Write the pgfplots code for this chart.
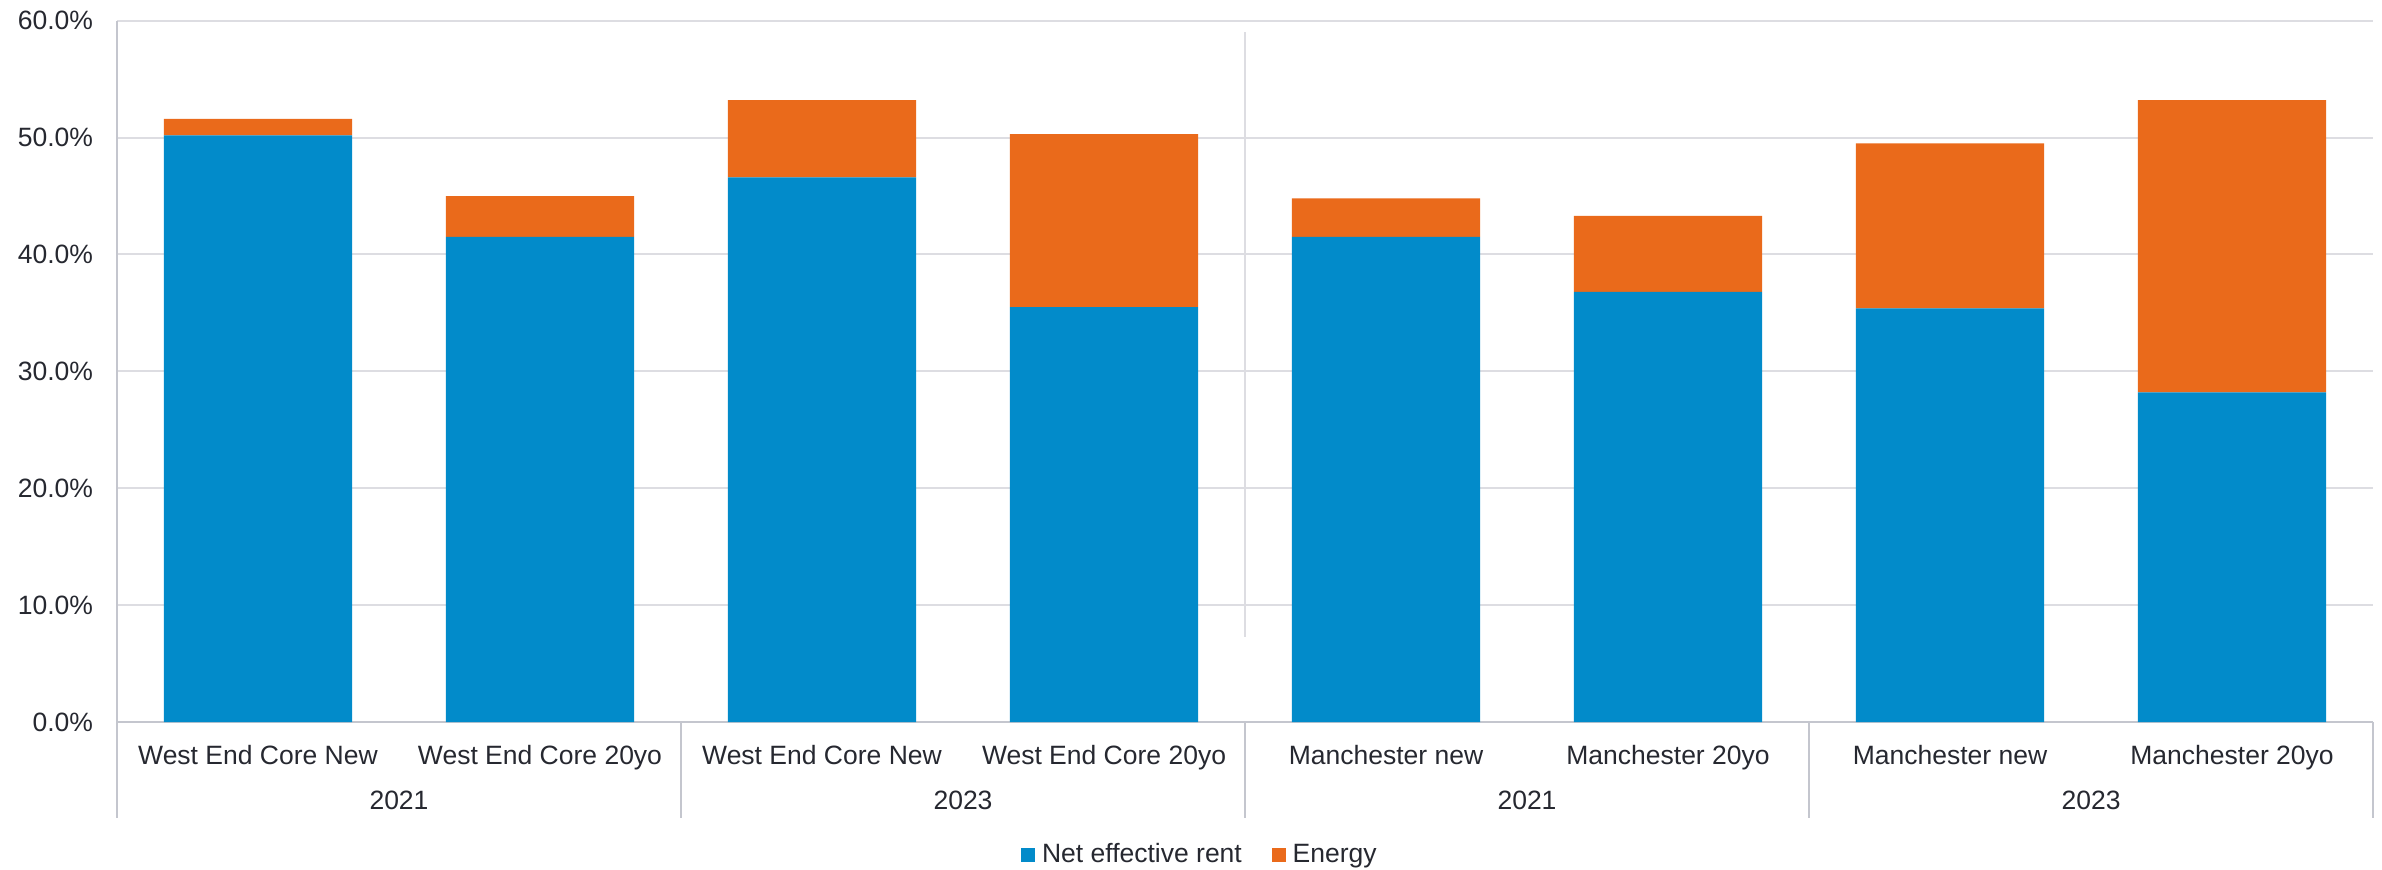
\documentclass[border=0pt]{standalone}
\usepackage{fontspec}
\setmainfont{Liberation Sans}
\usepackage{pgfplots}
\pgfplotsset{compat=1.18}

\definecolor{rentblue}{RGB}{2,139,202}
\definecolor{energyorange}{RGB}{234,106,27}
\definecolor{gridgray}{RGB}{221,221,226}
\definecolor{axisgray}{RGB}{196,198,206}
\definecolor{txt}{RGB}{38,40,48}

\begin{document}
\begin{tikzpicture}[font=\fontsize{10.6pt}{12pt}\selectfont, text=txt]
\begin{axis}[
    width=902.4pt, height=280.5pt,
    scale only axis,
    ybar stacked,
    bar width=0.667,
    xmin=0.5, xmax=8.5,
    ymin=0, ymax=60,
    enlarge x limits=false,
    enlarge y limits=false,
    axis x line*=bottom,
    axis y line*=left,
    axis line style={axisgray, line width=0.9pt, -},
    ytick={0,10,...,60},
    yticklabel={\pgfmathprintnumber[fixed,fixed zerofill,precision=1]{\tick}\%},
    /pgf/number format/assume math mode=true,
    yticklabel style={anchor=east, inner sep=0pt, xshift=-9.4pt},
    xtick={1,...,8},
    xticklabels={West End Core New, West End Core 20yo, West End Core New, West End Core 20yo,
                 Manchester new, Manchester 20yo, Manchester new, Manchester 20yo},
    xticklabel style={anchor=base, inner sep=0pt, yshift=-16.8pt},
    major tick length=0pt,
    ymajorgrids,
    grid style={gridgray, line width=0.8pt},
    clip=false,
    legend columns=2,
    legend style={draw=none, fill=none, inner sep=0pt,
                  at={(rel axis cs:0.4006,0)}, anchor=west, yshift=-53.2pt,
                  font=\fontsize{10.6pt}{12pt}\selectfont,
                  nodes={inner sep=0pt, text=txt},
                  /tikz/every even column/.append style={column sep=12pt}},
    legend cell align=left,
]
\addplot+[fill=rentblue, draw=none,
    legend image code/.code={\fill[rentblue] (0pt,-2.8pt) rectangle (5.6pt,2.8pt); \path (8.3pt,0pt);}]
  coordinates {(1,50.2) (2,41.5) (3,46.6) (4,35.5) (5,41.5) (6,36.8) (7,35.4) (8,28.2)};
\addlegendentry{Net effective rent}
\addplot+[fill=energyorange, draw=none,
    legend image code/.code={\fill[energyorange] (0pt,-2.8pt) rectangle (5.6pt,2.8pt); \path (8.3pt,0pt);}]
  coordinates {(1,1.4) (2,3.5) (3,6.6) (4,14.8) (5,3.3) (6,6.5) (7,14.1) (8,25.0)};
\addlegendentry{Energy}

% separator inside the plot
\draw[gridgray, line width=0.8pt] (axis cs:4.5,59.0) -- (axis cs:4.5,7.3);
% group boxes below the axis
\draw[axisgray, line width=0.9pt] (axis cs:0.5,0) -- ([yshift=-38.4pt]axis cs:0.5,0);
\draw[axisgray, line width=0.9pt] (axis cs:2.5,0) -- ([yshift=-38.4pt]axis cs:2.5,0);
\draw[axisgray, line width=0.9pt] (axis cs:4.5,0) -- ([yshift=-38.4pt]axis cs:4.5,0);
\draw[axisgray, line width=0.9pt] (axis cs:6.5,0) -- ([yshift=-38.4pt]axis cs:6.5,0);
\draw[axisgray, line width=0.9pt] (axis cs:8.5,0) -- ([yshift=-38.4pt]axis cs:8.5,0);
\node[anchor=base, inner sep=0pt] at ([yshift=-34.8pt]axis cs:1.5,0) {2021};
\node[anchor=base, inner sep=0pt] at ([yshift=-34.8pt]axis cs:3.5,0) {2023};
\node[anchor=base, inner sep=0pt] at ([yshift=-34.8pt]axis cs:5.5,0) {2021};
\node[anchor=base, inner sep=0pt] at ([yshift=-34.8pt]axis cs:7.5,0) {2023};
\end{axis}
\pgfresetboundingbox
\path[use as bounding box] ([xshift=-46.8pt,yshift=-58.8pt]current axis.south west) rectangle ([xshift=3.6pt,yshift=8.3pt]current axis.north east);
\end{tikzpicture}
\end{document}
